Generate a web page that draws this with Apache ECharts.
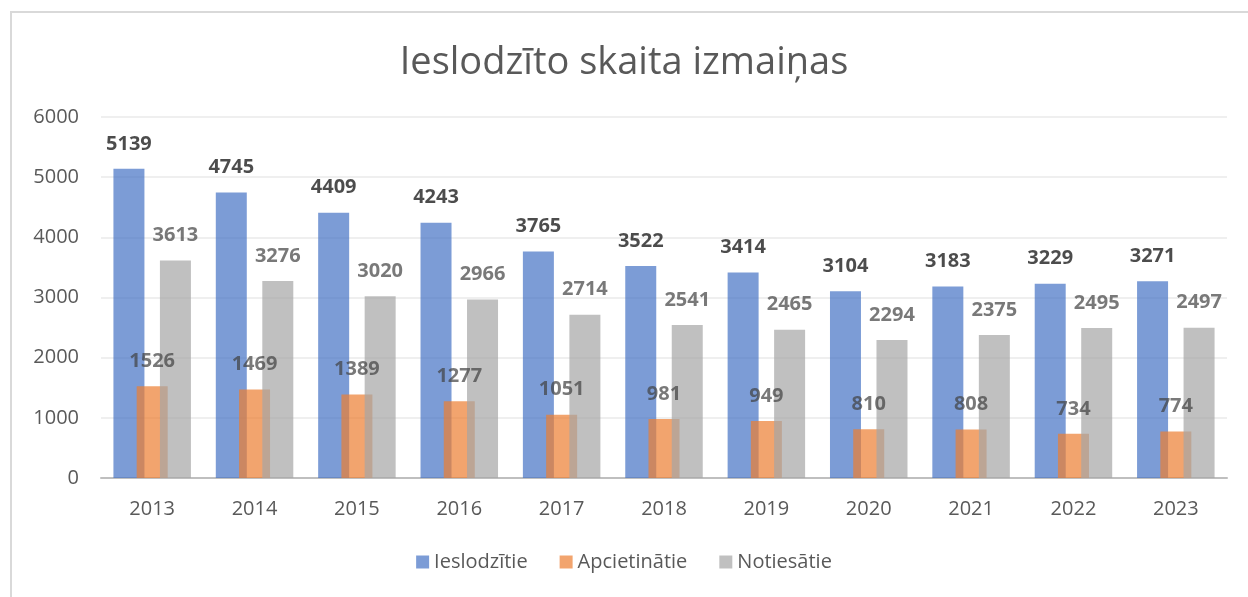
<!DOCTYPE html>
<html>
<head>
<meta charset="utf-8">
<script src="https://cdn.jsdelivr.net/npm/echarts@6/dist/echarts.min.js"></script>
<style>
  html, body { margin: 0; padding: 0; background: #fff; }
  #frame { position: absolute; left: 10px; top: 11px; width: 1300px; height: 700px; border-left: 2px solid #d9d9d9; border-top: 2px solid #d9d9d9; }
  #chart { position: absolute; left: 0; top: 0; width: 1248px; height: 597px; }
</style>
</head>
<body>
<div id="frame"></div>
<div id="chart"></div>
<script>
const years = ['2013', '2014', '2015', '2016', '2017', '2018', '2019', '2020', '2021', '2022', '2023'];
const ieslodzitie = [5139, 4745, 4409, 4243, 3765, 3522, 3414, 3104, 3183, 3229, 3271];
const apcietinatie = [1526, 1469, 1389, 1277, 1051, 981, 949, 810, 808, 734, 774];
const notiesatie = [3613, 3276, 3020, 2966, 2714, 2541, 2465, 2294, 2375, 2495, 2497];

const font = 'Open Sans';
const chart = echarts.init(document.getElementById('chart'));

const makeSeries = (name, data, color, labelColor) => ({
  name,
  type: 'bar',
  data,
  barWidth: 31,
  barGap: '-25%',
  itemStyle: { color, opacity: 0.7 },
  label: {
    show: true,
    position: 'top',
    distance: 15,
    color: labelColor,
    fontFamily: font,
    fontWeight: 'bold',
    fontSize: 20,
  },
});

chart.setOption({
  animation: false,
  title: {
    text: 'Ieslodzīto skaita izmaiņas',
    left: 'center',
    top: 39,
    textStyle: { fontFamily: font, fontWeight: 'normal', fontSize: 38, color: '#595959' },
  },
  legend: {
    bottom: 20,
    left: 'center',
    itemWidth: 13,
    itemHeight: 13,
    itemGap: 32,
    icon: 'rect',
    textStyle: { fontFamily: font, fontSize: 20, color: '#595959' },
    data: ['Ieslodzītie', 'Apcietinātie', 'Notiesātie'],
  },
  grid: { left: 101, right: 21, top: 117, bottom: 119 },
  xAxis: {
    type: 'category',
    data: years,
    axisLine: { lineStyle: { color: '#bfbfbf', width: 2 } },
    axisTick: { show: false },
    axisLabel: { fontFamily: font, fontSize: 20, color: '#595959', margin: 21 },
  },
  yAxis: {
    type: 'value',
    min: 0,
    max: 6000,
    interval: 1000,
    axisLine: { show: false },
    axisTick: { show: false },
    splitLine: { lineStyle: { color: '#efefef', width: 2 } },
    axisLabel: { fontFamily: font, fontSize: 20, color: '#595959', margin: 22, formatter: (v) => String(v) },
  },
  series: [
    makeSeries('Ieslodzītie', ieslodzitie, '#4472C4', '#000000'),
    makeSeries('Apcietinātie', apcietinatie, '#ED7D31', '#404040'),
    makeSeries('Notiesātie', notiesatie, '#A5A5A5', '#404040'),
  ],
});
</script>
</body>
</html>
